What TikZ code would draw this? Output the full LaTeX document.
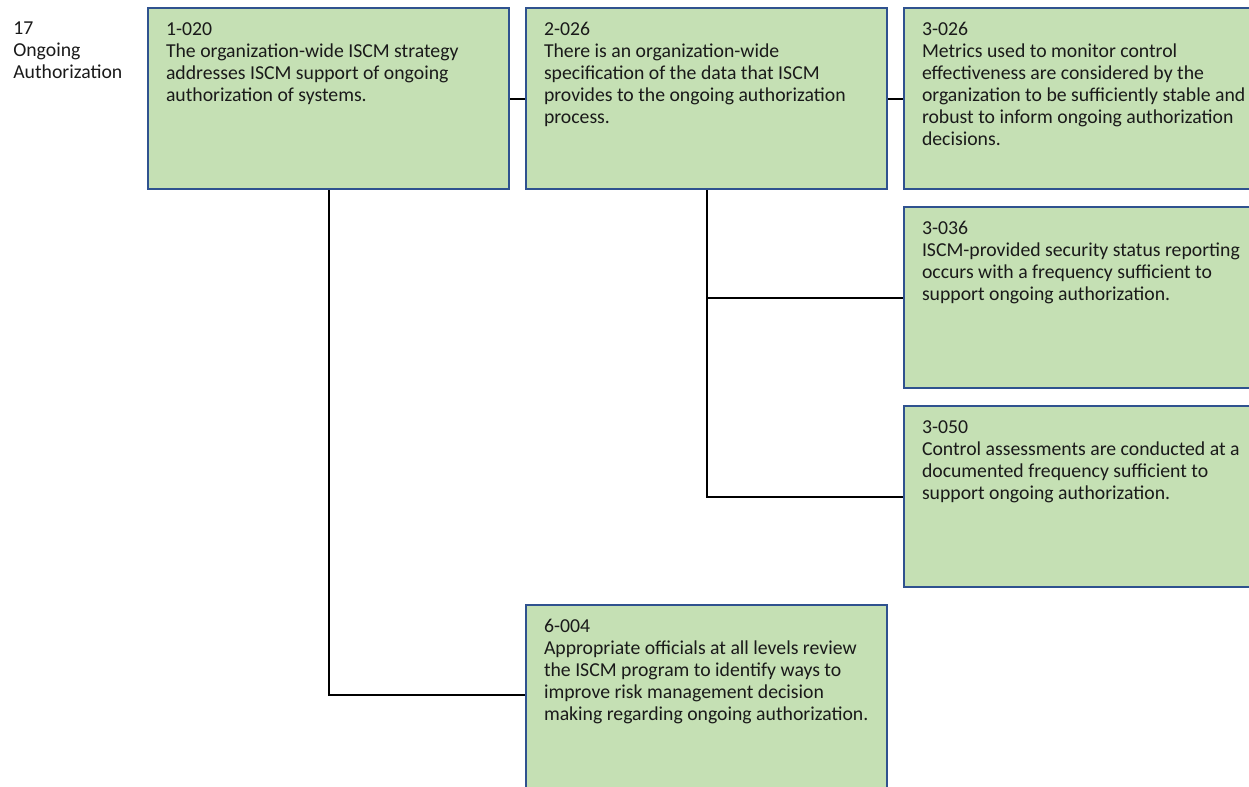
\documentclass[tikz,border=0pt]{standalone}
\usepackage{fontspec}
\setmainfont{Carlito}
\definecolor{boxgreen}{HTML}{C5E0B4}
\definecolor{boxblue}{HTML}{2F528F}
\definecolor{inktext}{HTML}{1A1A1A}
% body of a card: fixed height, id on the first line, description below
\newcommand\cardbody[3]{\parbox[c][#1][t]{270.75pt}{\raggedright\leftskip=13.5pt\rule{0pt}{20.5pt}#2\\#3}}
\begin{document}
\begin{tikzpicture}[x=0.75pt,y=-0.75pt,
  card/.style={draw=boxblue, fill=boxgreen, line width=1.5pt, inner sep=0pt,
    anchor=north west, text=inktext, font=\fontsize{14.8}{16.5}\selectfont},
  caption/.style={anchor=north west, inner sep=0pt, align=left, text=inktext,
    font=\fontsize{14.8}{16.5}\selectfont},
  link/.style={draw=black, line width=1.5pt}]
\useasboundingbox (0,0) rectangle (1249,786);
\clip (0,0) rectangle (1249,786);

\node[caption] (topic) at (13,7) {\rule{0pt}{20.5pt}17\\Ongoing\\Authorization};

\node[card] (c1020) at (147,7) {\cardbody{135.75pt}{1-020}{The organization-wide ISCM strategy\\addresses ISCM support of ongoing\\authorization of systems.}};
\node[card] (c2026) at (525,7) {\cardbody{135.75pt}{2-026}{There is an organization-wide\\specification of the data that ISCM\\provides to the ongoing authorization\\process.}};
\node[card] (c3026) at (903,7) {\cardbody{135.75pt}{3-026}{Metrics used to monitor control\\effectiveness are considered by the\\organization to be sufficiently stable and\\robust to inform ongoing authorization\\decisions.}};
\node[card] (c3036) at (903,206) {\cardbody{135.75pt}{3-036}{ISCM-provided security status reporting\\occurs with a frequency sufficient to\\support ongoing authorization.}};
\node[card] (c3050) at (903,405) {\cardbody{135.75pt}{3-050}{Control assessments are conducted at a\\documented frequency sufficient to\\support ongoing authorization.}};
\node[card] (c6004) at (525,604) {\cardbody{150pt}{6-004}{Appropriate officials at all levels review\\the ISCM program to identify ways to\\improve risk management decision\\making regarding ongoing authorization.}};
\path (c6004.north west) ++(0,90.5) coordinate (j6004);

\draw[link] (c1020.east) -- (c2026.west);
\draw[link] (c2026.east) -- (c3026.west);
\draw[link] (c2026.south) |- (c3036.west);
\draw[link] (c2026.south) |- (c3050.west);
\draw[link] (c1020.south) |- (j6004);
\end{tikzpicture}
\end{document}
